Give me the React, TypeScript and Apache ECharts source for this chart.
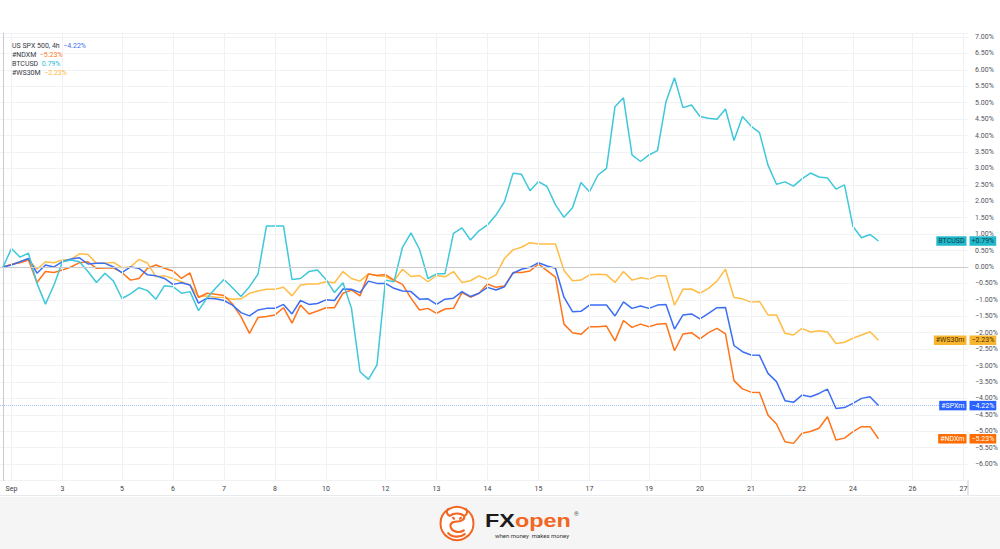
import React, { useEffect, useRef } from 'react';
import * as echarts from 'echarts';

// ---------- data ----------
const xLabelIdx = [1, 7, 14, 20, 26, 32, 38, 45, 51, 57, 63, 69, 76, 82, 88, 94, 100, 107, 113];
const xLabelText = ['Sep', '3', '5', '6', '7', '8', '10', '12', '13', '14', '15', '17', '19', '20', '21', '22', '24', '26', '27'];

const spx = [
  0, 0.06, 0.16, 0.26, -0.19, 0.06, 0.0, 0.16, 0.24, 0.28,
  0.09, 0.11, 0.11, 0.0, -0.17, 0.0, -0.04, -0.24, -0.27, -0.35,
  -0.53, -0.48, -0.55, -1.10, -0.95, -0.97, -1.02, -1.16, -1.39, -1.49,
  -1.31, -1.26, -1.26, -1.14, -1.43, -1.02, -1.14, -1.11, -1.00, -1.02,
  -0.67, -0.68, -0.78, -0.43, -0.50, -0.50, -0.65, -0.73, -0.75, -0.98,
  -0.97, -1.14, -0.98, -0.95, -0.75, -0.90, -0.80, -0.62, -0.70, -0.60,
  -0.19, -0.07, -0.01, 0.13, 0.03, -0.04, -0.92, -1.36, -1.35, -1.16,
  -1.16, -1.16, -1.49, -1.06, -1.26, -1.19, -1.26, -1.16, -1.14, -1.89,
  -1.46, -1.43, -1.58, -1.41, -1.24, -1.23, -2.39, -2.58, -2.68, -2.69,
  -3.24, -3.49, -4.07, -4.12, -3.90, -3.95, -3.85, -3.72, -4.31, -4.28,
  -4.15, -4.00, -3.95, -4.22,
];

const ndx = [
  0, 0.08, 0.13, 0.21, -0.47, -0.14, -0.17, -0.09, 0.0, 0.13,
  0.16, -0.04, -0.03, -0.03, -0.17, -0.40, -0.35, -0.04, 0.06, -0.04,
  -0.12, -0.35, -0.18, -0.93, -0.80, -0.83, -0.87, -1.13, -1.51, -2.02,
  -1.54, -1.51, -1.46, -1.24, -1.71, -1.16, -1.43, -1.34, -1.24, -1.24,
  -0.80, -0.70, -0.88, -0.21, -0.26, -0.23, -0.40, -0.53, -0.95, -1.31,
  -1.26, -1.41, -1.28, -1.26, -0.78, -0.92, -0.80, -0.52, -0.62, -0.58,
  -0.17, -0.17, -0.12, 0.09, -0.11, -0.31, -1.74, -2.00, -2.05, -1.82,
  -1.82, -1.80, -2.25, -1.63, -1.84, -1.74, -1.82, -1.74, -1.72, -2.55,
  -2.04, -2.00, -2.19, -2.00, -1.87, -2.04, -3.46, -3.71, -3.81, -3.82,
  -4.51, -4.78, -5.32, -5.37, -5.06, -5.01, -4.91, -4.56, -5.27, -5.21,
  -5.01, -4.86, -4.86, -5.23,
];

const btc = [
  0, 0.56, 0.30, 0.42, -0.50, -1.13, -0.55, 0.16, 0.21, 0.16,
  -0.14, -0.47, -0.19, -0.43, -0.96, -0.82, -0.63, -0.72, -0.98, -0.57,
  -0.60, -0.80, -0.75, -1.33, -0.95, -0.65, -0.38, -0.63, -0.90, -0.60,
  -0.22, 1.25, 1.25, 1.25, -0.38, -0.35, -0.14, -0.09, -0.38, -0.78,
  -0.48, -1.26, -3.19, -3.42, -2.98, -0.40, -0.45, 0.60, 1.04, 0.54,
  -0.35, -0.21, -0.21, 1.02, 1.19, 0.82, 1.10, 1.28, 1.58, 1.99,
  2.85, 2.82, 2.32, 2.60, 2.45, 1.89, 1.51, 1.80, 2.57, 2.29,
  2.80, 3.00, 4.88, 5.15, 3.41, 3.21, 3.41, 3.54, 5.03, 5.76,
  4.85, 4.93, 4.58, 4.53, 4.50, 4.81, 3.85, 4.58, 4.29, 4.09,
  3.10, 2.52, 2.59, 2.46, 2.68, 2.86, 2.74, 2.71, 2.37, 2.50,
  1.23, 0.89, 0.99, 0.79,
];

const ws30 = [
  0, 0.08, 0.16, 0.23, -0.07, 0.16, 0.13, 0.21, 0.23, 0.40,
  0.38, 0.11, 0.11, 0.14, -0.02, 0.00, 0.23, 0.12, -0.30, -0.27,
  -0.35, -0.45, -0.55, -0.90, -0.88, -0.92, -0.93, -0.98, -0.97, -0.80,
  -0.73, -0.68, -0.68, -0.62, -0.88, -0.55, -0.52, -0.52, -0.45, -0.48,
  -0.14, -0.35, -0.43, -0.21, -0.27, -0.29, -0.42, -0.07, -0.29, -0.26,
  -0.45, -0.26, -0.30, -0.14, -0.47, -0.42, -0.27, -0.38, -0.24, 0.26,
  0.52, 0.60, 0.74, 0.70, 0.70, 0.70, -0.11, -0.42, -0.40, -0.24,
  -0.22, -0.24, -0.47, -0.14, -0.40, -0.33, -0.37, -0.27, -0.27, -1.16,
  -0.68, -0.67, -0.80, -0.65, -0.43, -0.07, -0.93, -0.97, -1.07, -1.05,
  -1.46, -1.46, -2.02, -2.07, -1.87, -1.98, -1.94, -1.98, -2.33, -2.29,
  -2.17, -2.07, -1.97, -2.23,
];

// order: SPX, NDX, BTC, WS30
const seriesData = [spx, ndx, btc, ws30];
const legendNames = ['US SPX 500, 4h', '#NDXM', 'BTCUSD', '#WS30M'];
const boxNames = ['#SPXm', '#NDXm', 'BTCUSD', '#WS30m'];
const lineColors = ['#3b6ef3', '#ff7419', '#3fc7da', '#ffbd45'];
const legendValColors = ['#3d6cf2', '#ff7a1f', '#26c0d6', '#ffb43a'];
const boxColors = ['#2962ff', '#ff6d00', '#22b9cc', '#f9b530'];
const boxTextColors = ['#ffffff', '#ffffff', '#0b3f46', '#4a3300'];
const drawOrder = [3, 1, 0, 2];

const X_MIN = -0.35;
const X_MAX = 113.53;
const Y_MIN = -6.5;
const Y_MAX = 7.12;
const PX_PER_UNIT = 32.85;
const AXIS_Y = 480.5;

const FONT = 'Roboto, "Open Sans", sans-serif';
const LOGO_FONT = '"Liberation Sans", Arial, sans-serif';

const fmt = (v: number, plus = false) => {
  if (Math.abs(v) < 1e-9) return '0.00%';
  return (v < 0 ? '\u2212' : plus ? '+' : '') + Math.abs(v).toFixed(2) + '%';
};

export default function App() {
  const ref = useRef<HTMLDivElement>(null);

  useEffect(() => {
    if (!ref.current) return;
    const chart = echarts.init(ref.current, null, { renderer: 'svg' });

    echarts.graphic.registerShape(
      'fxbull',
      echarts.graphic.extendPath(
        'M 9 9 C 6 7 6 4 8 2 M 25 9 C 28 7 28 4 26 2 M 10 9 C 13 6 21 6 24 9 C 26 12 22 15 17 15 C 11 15 9 18 11 22 C 13 26 20 27 24 24 M 13 11 L 14 12 M 21 11 L 20 12 M 8 27 C 11 31 20 32 25 28',
        {}
      )
    );

    const lasts = seriesData.map((d) => d[d.length - 1]);

    const rich: any = {
      n: { color: '#363a45', fontSize: 7, fontWeight: 'normal', fontFamily: FONT, lineHeight: 9.2 },
    };
    legendValColors.forEach((c, i) => {
      rich['v' + i] = { color: c, fontSize: 7, fontWeight: 'normal', fontFamily: FONT, lineHeight: 9.2 };
    });
    const legendText = legendNames
      .map((n, i) => `{n|${n}}  {v${i}|${fmt(lasts[i])}}`)
      .join('\n');

    const lineSeries = drawOrder.map((si) => {
      const d = seriesData[si];
      const last = lasts[si];
      const lblBase = {
        show: true,
        fontSize: 7,
        fontFamily: FONT,
        backgroundColor: boxColors[si],
        color: boxTextColors[si],
        padding: [1.5, 2, 1, 2],
        distance: 1,
      };
      return {
        type: 'line',
        name: boxNames[si],
        data: d.map((v, i) => [i, v]),
        showSymbol: false,
        symbol: 'none',
        clip: false,
        z: 3,
        lineStyle: { color: lineColors[si], width: 1.5 },
        itemStyle: { color: lineColors[si] },
        markPoint: {
          symbol: 'rect',
          symbolSize: 1,
          silent: true,
          itemStyle: { color: 'rgba(0,0,0,0)' },
          data: [
            {
              coord: [X_MAX, last],
              label: { ...lblBase, position: 'left', formatter: boxNames[si] },
            },
            {
              coord: [X_MAX, last],
              label: { ...lblBase, position: 'right', formatter: fmt(last, true) },
            },
          ],
        },
      };
    });

    const helper = {
      type: 'line',
      data: [[0, btc[0]]],
      showSymbol: false,
      symbol: 'none',
      z: 1,
      silent: true,
      lineStyle: { opacity: 0 },
      markLine: {
        silent: true,
        symbol: 'none',
        label: { show: false },
        data: [
          ...xLabelIdx.map((v) => ({ xAxis: v, lineStyle: { color: '#f0f1f4', width: 1, type: 'solid' } })),
          { yAxis: 0, lineStyle: { color: '#c9cacd', width: 1.2, type: 'solid' } },
          { yAxis: lasts[0], lineStyle: { color: 'rgba(41,98,255,0.4)', width: 1, type: 'dotted' } },
        ],
      },
    };

    const gridTop = AXIS_Y - (Y_MAX - Y_MIN) * PX_PER_UNIT;

    const option: any = {
      animation: false,
      backgroundColor: '#ffffff',
      textStyle: { fontFamily: FONT },
      title: {
        left: 7,
        top: 36,
        text: legendText,
        textStyle: { fontSize: 7, fontWeight: 'normal', lineHeight: 9.2, rich },
      },
      grid: {
        left: 0,
        right: 32,
        top: gridTop,
        bottom: 549 - AXIS_Y,
        containLabel: false,
        outerBoundsMode: 'none',
      },
      xAxis: {
        type: 'value',
        min: X_MIN,
        max: X_MAX,
        axisLine: { show: true, lineStyle: { color: '#d6d7db', width: 1 } },
        axisTick: { show: false, customValues: xLabelIdx },
        splitLine: { show: false },
        axisLabel: {
          customValues: xLabelIdx,
          fontSize: 7,
          color: '#3b3e47',
          fontFamily: FONT,
          margin: 5,
          formatter: (v: number) => {
            const k = xLabelIdx.indexOf(Math.round(v));
            return k >= 0 ? xLabelText[k] : '';
          },
        },
      },
      yAxis: {
        type: 'value',
        position: 'right',
        min: Y_MIN,
        max: Y_MAX,
        interval: 0.5,
        axisLine: { show: true, lineStyle: { color: '#c9cbd0', width: 1 } },
        axisTick: { show: false },
        splitLine: { show: true, lineStyle: { color: '#f1f2f4', width: 1 } },
        axisLabel: {
          fontSize: 7,
          color: '#50535e',
          fontFamily: FONT,
          margin: 7,
          showMaxLabel: false,
          formatter: (v: number) => (v < -6.25 || v > 7.05 ? '' : fmt(v)),
        },
      },
      series: [helper, ...lineSeries],
      graphic: [
        { type: 'line', shape: { x1: 968, y1: 480, x2: 968, y2: 495 }, style: { stroke: '#c9cbd0', lineWidth: 1 }, silent: true },
        { type: 'line', shape: { x1: 0, y1: 495.5, x2: 1000, y2: 495.5 }, style: { stroke: '#e8e9ec', lineWidth: 1 }, silent: true },
        { type: 'rect', shape: { x: 0, y: 497, width: 1000, height: 52 }, style: { fill: '#f5f5f5' }, silent: true, z: -1 },
        { type: 'circle', shape: { cx: 457, cy: 523.5, r: 16.5 }, style: { fill: '#ffffff', stroke: '#f26522', lineWidth: 2 }, silent: true },
        { type: 'fxbull', x: 440.5, y: 507, scaleX: 0.97, scaleY: 0.97, style: { fill: 'none', stroke: '#f26522', lineWidth: 2.2, lineCap: 'round' }, silent: true },
        {
          type: 'text',
          x: 485,
          y: 512,
          scaleX: 1.3,
          silent: true,
          style: {
            text: '{a|FX}{b|open}',
            rich: {
              a: { fontSize: 18, lineHeight: 18, fontWeight: 900, fill: '#1b1b1b', fontFamily: LOGO_FONT },
              b: { fontSize: 18, lineHeight: 18, fontWeight: 900, fill: '#f26522', fontFamily: LOGO_FONT },
            },
          },
        },
        { type: 'text', x: 574, y: 510, silent: true, style: { text: '\u00ae', fontSize: 6, fill: '#555', fontFamily: FONT } },
        { type: 'text', x: 495, y: 532.5, silent: true, style: { text: 'when money  makes money', fontSize: 6, fill: '#333', fontFamily: FONT } },
      ],
    };

    chart.setOption(option);
    return () => chart.dispose();
  }, []);

  return (
    <div
      ref={ref}
      style={{ position: 'absolute', left: 0, top: 0, width: 1000, height: 549, background: '#fff' }}
    />
  );
}
